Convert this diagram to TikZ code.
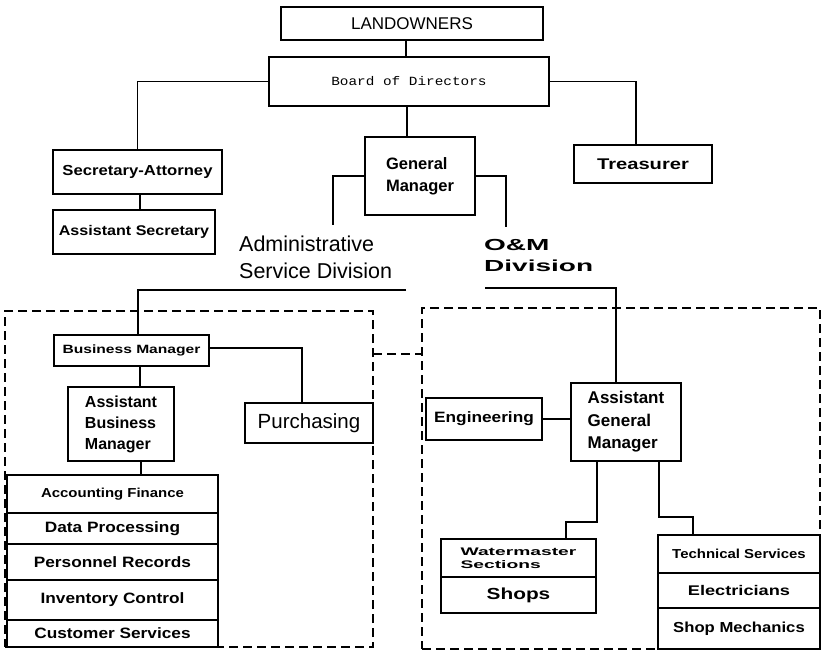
\documentclass[tikz,border=0pt]{standalone}
\usepackage{fontspec}
\usepackage{graphicx}
\setmainfont{Liberation Sans}
\newfontfamily\fntA{Liberation Sans}
\newfontfamily\fntB[FakeStretch=1.15]{Liberation Sans}
\newfontfamily\fntC[FakeStretch=1.3]{Liberation Sans}
\newfontfamily\fntD[FakeStretch=1.75]{Liberation Sans}
\newfontfamily\fntM[FakeStretch=1.15]{Liberation Mono}
\newcommand\fsz[2]{\fontsize{#1}{#2}\selectfont}
\tikzset{
  box/.style={draw, line width=1.3pt, inner sep=0pt, outer sep=0pt, align=center},
  conn/.style={line width=1.1pt},
  grp/.style={draw, dash pattern=on 9pt off 5pt, line width=1.1pt, inner sep=0pt, outer sep=0pt},
  grpline/.style={dash pattern=on 9pt off 5pt, line width=1.1pt},
  listA/.style={box, minimum width=211pt, font=\fntB\bfseries\fsz{15}{17}},
  listB/.style={box, minimum width=162pt},
}
\begin{document}
\begin{tikzpicture}[x=1pt,y=-1pt]
\useasboundingbox[fill=white] (0,0) rectangle (823,656);

% group frames
\node[grp, minimum width=368pt, minimum height=336pt] (admgrp) at (189,479) {};
\node[grp, minimum width=398pt, minimum height=341pt] (omgrp) at (621,478.5) {};

% top level
\node[box, minimum width=262pt, minimum height=33pt, font=\fntA\fsz{17}{20}] (land) at (412,23.5) {LANDOWNERS};
\node[box, minimum width=280pt, minimum height=49pt, font=\fntM\fsz{12.5}{14}] (board) at (409,81.5) {Board of Directors};
\node[box, minimum width=169pt, minimum height=44pt, font=\fntB\bfseries\fsz{14.5}{17}] (secatty) at (137.5,172) {Secretary-Attorney};
\node[box, minimum width=162pt, minimum height=44pt, font=\fntB\bfseries\fsz{14}{16}] (asstsec) at (134,232) {Assistant Secretary};
\node[box, minimum width=110pt, minimum height=78pt, align=left, font=\fntA\bfseries\fsz{16.5}{22}] (gm) at (420,176) {General\\Manager};
\node[box, minimum width=138pt, minimum height=38pt, font=\fntC\bfseries\fsz{15.5}{18}] (treas) at (643,164) {Treasurer};

% division labels
\node[anchor=west, align=left, inner sep=0pt, font=\fntA\fsz{21.5}{27}] (adm) at (239,257) {Administrative\\Service Division};
\node[anchor=west, align=left, inner sep=0pt, font=\fntD\bfseries\fsz{16}{21}] (om) at (484,255) {O\&M\\Division};

% administrative service division
\node[box, minimum width=155pt, minimum height=31pt, font=\fntC\bfseries\fsz{12}{14}] (bm) at (131.5,350.5) {Business Manager};
\node[box, minimum width=106pt, minimum height=74pt, align=left, font=\fntA\bfseries\fsz{16}{21}] (abm) at (121,424) {Assistant\\Business\\Manager};
\node[box, minimum width=128pt, minimum height=40pt, font=\fntA\fsz{20.5}{24}] (purch) at (309,423) {Purchasing};
\node[listA, minimum height=38pt, font=\fntB\bfseries\fsz{13}{15}] (acc) at (112.5,494) {Accounting Finance};
\node[listA, minimum height=31pt] (dp) at (112.5,528.5) {Data Processing};
\node[listA, minimum height=36pt] (pr) at (112.5,562) {Personnel Records};
\node[listA, minimum height=40pt] (ic) at (112.5,600) {Inventory Control};
\node[listA, minimum height=27pt] (cs) at (112.5,633.5) {Customer Services};

% O&M division
\node[box, minimum width=116pt, minimum height=42pt, font=\fntB\bfseries\fsz{15}{17}] (eng) at (484,419) {Engineering};
\node[box, minimum width=110pt, minimum height=78pt, align=left, font=\fntA\bfseries\fsz{17}{22.5}] (agm) at (626,422) {Assistant\\General\\Manager};
\node[box, minimum width=155pt, minimum height=38pt, align=left, font=\fntD\bfseries\fsz{11}{13}] (water) at (518.5,558) {Watermaster\\Sections};
\node[box, minimum width=155pt, minimum height=36pt, font=\fntC\bfseries\fsz{16}{18}] (shops) at (518.5,595) {Shops};
\node[listB, minimum height=38pt, font=\fntB\bfseries\fsz{13}{15}] (ts) at (739,554) {Technical Services};
\node[listB, minimum height=35pt, font=\fntC\bfseries\fsz{14}{16}] (el) at (739,590.5) {Electricians};
\node[listB, minimum height=41pt, font=\fntB\bfseries\fsz{14.5}{17}] (sm) at (739,628.5) {Shop Mechanics};

% connectors
\draw[conn] ([xshift=-6pt]land.south) -- ([xshift=-6pt]land.south |- board.north);
\draw[conn] (board.west) -| (secatty.north);
\draw[conn] (board.east) -| ([xshift=-7pt]treas.north);
\draw[conn] ([xshift=-2pt]board.south) -- ([xshift=-2pt]board.south |- gm.north);
\draw[conn] ([xshift=2.5pt]secatty.south) -- ([xshift=2.5pt]secatty.south |- asstsec.north);
\coordinate (admtop) at (333,225);
\coordinate (omtop) at (506,227);
\draw[conn] (gm.west) -| (admtop);
\draw[conn] (gm.east) -| (omtop);
\coordinate (admul) at (406,290);
\coordinate (omul) at (485,288);
\draw[conn] (admul) -| ([xshift=6.5pt]bm.north);
\draw[conn] (omul) -| ([xshift=-10pt]agm.north);
\draw[conn] ([xshift=8.5pt]bm.south) -- ([xshift=8.5pt]bm.south |- abm.north);
\draw[conn] ([yshift=2.5pt]bm.east) -| ([xshift=-7pt]purch.north);
\draw[conn] ([xshift=20pt]abm.south) -- ([xshift=20pt]abm.south |- acc.north);
\draw[conn] (eng.east) -- (eng.east -| agm.west);
\draw[conn] ([xshift=-29pt]agm.south) -- ++(0,61) -| ([xshift=47.5pt]water.north);
\draw[conn] ([xshift=33pt]agm.south) -- ++(0,56) -| ([xshift=-46pt]ts.north);
\draw[grpline] ([yshift=125pt]admgrp.east) -- ([yshift=125pt]admgrp.east -| omgrp.west);
\end{tikzpicture}
\end{document}
